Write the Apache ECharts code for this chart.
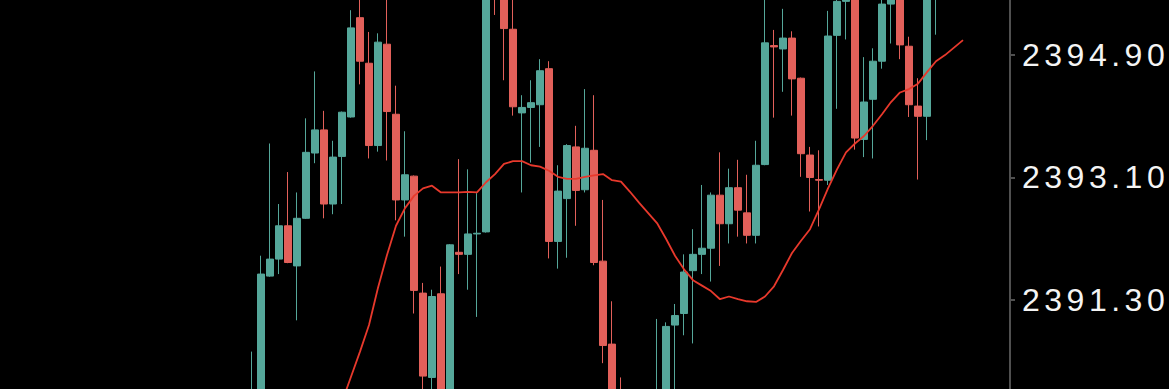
<!DOCTYPE html>
<html>
<head>
<meta charset="utf-8">
<script src="https://cdn.jsdelivr.net/npm/echarts@6/dist/echarts.min.js"></script>
<style>
  html, body { margin: 0; padding: 0; background: #000; }
  #chart { width: 1169px; height: 389px; letter-spacing: 4.5px; }
</style>
</head>
<body>
<div id="chart"></div>
<script>
// candles hidden below the visible range before the first drawn one
const leadingEmpty = 27;
const trailingEmpty = 4;

// [open, close, low, high]
const candles = [
  [2389.70, 2389.90, 2389.60, 2390.54],
  [2389.80, 2391.68, 2389.70, 2391.95],
  [2391.65, 2391.90, 2391.64, 2393.60],
  [2391.90, 2392.39, 2391.68, 2392.71],
  [2392.39, 2391.85, 2391.84, 2393.18],
  [2391.80, 2392.50, 2391.00, 2392.88],
  [2392.50, 2393.47, 2392.49, 2393.97],
  [2393.46, 2393.80, 2393.31, 2394.66],
  [2393.80, 2392.71, 2392.50, 2394.08],
  [2392.71, 2393.40, 2392.56, 2393.64],
  [2393.41, 2394.06, 2392.71, 2394.07],
  [2393.99, 2395.30, 2393.98, 2395.56],
  [2395.45, 2394.81, 2394.47, 2395.80],
  [2394.78, 2393.57, 2393.38, 2395.24],
  [2393.57, 2395.09, 2393.48, 2395.22],
  [2395.06, 2394.07, 2393.35, 2395.85],
  [2394.03, 2392.77, 2392.47, 2394.45],
  [2392.77, 2393.14, 2392.23, 2393.78],
  [2393.12, 2391.44, 2391.10, 2393.13],
  [2391.40, 2390.18, 2389.90, 2391.55],
  [2390.16, 2391.35, 2389.90, 2391.45],
  [2391.39, 2389.80, 2389.70, 2391.79],
  [2389.80, 2392.11, 2389.70, 2392.12],
  [2392.00, 2391.97, 2391.68, 2393.37],
  [2391.97, 2392.27, 2391.45, 2393.22],
  [2392.27, 2392.28, 2391.05, 2392.87],
  [2392.30, 2395.90, 2392.29, 2396.00],
  [2396.10, 2395.85, 2395.49, 2396.20],
  [2396.00, 2395.29, 2394.53, 2396.10],
  [2395.28, 2394.14, 2394.01, 2395.85],
  [2394.05, 2394.13, 2392.88, 2394.31],
  [2394.13, 2394.20, 2393.32, 2394.53],
  [2394.17, 2394.67, 2393.55, 2394.84],
  [2394.70, 2392.16, 2391.91, 2394.81],
  [2392.16, 2392.90, 2391.76, 2393.28],
  [2392.79, 2393.57, 2391.92, 2393.59],
  [2393.55, 2392.91, 2392.39, 2393.86],
  [2392.92, 2393.53, 2392.88, 2394.40],
  [2393.50, 2391.85, 2391.81, 2394.31],
  [2391.87, 2390.63, 2390.37, 2392.77],
  [2390.65, 2389.75, 2389.60, 2391.28],
  [2389.95, 2389.70, 2389.60, 2390.16],
  [2389.70, 2389.40, 2389.30, 2389.85],
  [2389.40, 2389.60, 2389.20, 2389.80],
  [2389.60, 2389.80, 2389.50, 2389.95],
  [2389.70, 2389.90, 2389.60, 2391.02],
  [2389.85, 2390.91, 2389.75, 2390.97],
  [2390.93, 2391.07, 2389.90, 2391.24],
  [2391.10, 2391.71, 2390.78, 2391.97],
  [2391.73, 2391.97, 2390.66, 2392.34],
  [2391.97, 2392.06, 2391.68, 2392.99],
  [2392.06, 2392.84, 2391.57, 2392.88],
  [2392.84, 2392.42, 2391.80, 2393.47],
  [2392.42, 2392.95, 2392.13, 2393.23],
  [2392.95, 2392.62, 2392.23, 2393.36],
  [2392.58, 2392.25, 2392.13, 2393.14],
  [2392.25, 2393.28, 2392.13, 2393.64],
  [2393.29, 2395.08, 2393.28, 2395.80],
  [2395.04, 2395.02, 2393.98, 2395.27],
  [2394.99, 2395.15, 2394.36, 2395.58],
  [2395.15, 2394.55, 2394.01, 2395.25],
  [2394.56, 2393.45, 2393.11, 2394.57],
  [2393.43, 2393.10, 2392.60, 2393.55],
  [2393.07, 2393.06, 2392.38, 2393.50],
  [2393.06, 2395.18, 2392.99, 2395.55],
  [2395.19, 2395.69, 2394.11, 2395.85],
  [2395.69, 2395.95, 2395.13, 2396.05],
  [2396.00, 2393.68, 2393.51, 2396.10],
  [2393.66, 2394.21, 2393.40, 2394.87],
  [2394.25, 2394.81, 2393.38, 2395.00],
  [2394.81, 2395.65, 2394.70, 2395.80],
  [2395.65, 2395.95, 2395.07, 2396.05],
  [2396.00, 2395.05, 2394.84, 2396.10],
  [2395.03, 2394.17, 2393.99, 2395.17],
  [2394.15, 2394.00, 2393.07, 2394.56],
  [2394.00, 2395.90, 2393.65, 2396.00],
  [2395.85, 2396.10, 2395.20, 2396.20],
  [2396.10, 2395.95, 2395.80, 2396.30],
  [2395.95, 2396.25, 2395.85, 2396.35],
  [2396.25, 2396.10, 2395.90, 2396.40]
];

// moving average, starting 10 candles after the first candle above
const maLeading = 37;
const movingAverage = [
  2389.80, 2390.17, 2390.54, 2390.93, 2391.48, 2391.96, 2392.39, 2392.65, 2392.83, 2392.94,
  2392.98, 2392.88, 2392.88, 2392.88, 2392.89, 2392.88, 2393.03, 2393.15, 2393.30, 2393.34,
  2393.34, 2393.28, 2393.26, 2393.20, 2393.11, 2393.08, 2393.08, 2393.11, 2393.13, 2393.15,
  2393.06, 2393.04, 2392.89, 2392.73, 2392.58, 2392.43, 2392.20, 2391.95, 2391.75, 2391.59,
  2391.51, 2391.43, 2391.31, 2391.35, 2391.31, 2391.28, 2391.27, 2391.35, 2391.50, 2391.74,
  2391.99, 2392.17, 2392.34, 2392.63, 2392.94, 2393.22, 2393.47, 2393.60, 2393.71, 2393.86,
  2394.03, 2394.21, 2394.35, 2394.40, 2394.48, 2394.65, 2394.81, 2394.90, 2395.01, 2395.12
];

const yTicks = [2391.30, 2393.10, 2394.90];
const yMin = 2389.99;
const yMax = 2395.71;

const total = leadingEmpty + candles.length + trailingEmpty;
const categories = [];
for (let i = 0; i < total; i++) categories.push(String(i));

const candleData = [];
for (let i = 0; i < leadingEmpty; i++) candleData.push('-');
candles.forEach(c => candleData.push(c));
for (let i = 0; i < trailingEmpty; i++) candleData.push('-');

const maData = [];
for (let i = 0; i < maLeading; i++) maData.push('-');
movingAverage.forEach(v => maData.push(v));
while (maData.length < total) maData.push('-');

const UP = '#55a79a';
const DOWN = '#e2605a';
const AXIS = '#505050';

const chart = echarts.init(document.getElementById('chart'), null, { renderer: 'svg' });
chart.setOption({
  backgroundColor: '#000000',
  animation: false,
  grid: { left: 4.5, right: 165.5, top: 0, bottom: 0, containLabel: false },
  xAxis: {
    type: 'category',
    data: categories,
    boundaryGap: true,
    show: false
  },
  yAxis: {
    type: 'value',
    position: 'right',
    offset: 6.5,
    min: yMin,
    max: yMax,
    splitLine: { show: false },
    axisLine: { show: true, lineStyle: { color: AXIS, width: 2 } },
    axisTick: { show: true, inside: false, length: 5, lineStyle: { color: AXIS, width: 2 }, customValues: yTicks },
    axisLabel: {
      customValues: yTicks,
      formatter: v => Number(v).toFixed(2),
      margin: 12,
      color: '#f4f4f4',
      fontFamily: 'Liberation Sans',
      fontSize: 32
    }
  },
  series: [
    {
      type: 'candlestick',
      data: candleData,
      barWidth: 7,
      clip: true,
      itemStyle: {
        color: UP,
        color0: DOWN,
        borderColor: UP,
        borderColor0: DOWN,
        borderWidth: 1
      }
    },
    {
      type: 'line',
      data: maData,
      showSymbol: false,
      symbol: 'none',
      clip: true,
      connectNulls: false,
      lineStyle: { color: '#e8392c', width: 1.8 }
    }
  ]
});
</script>
</body>
</html>
